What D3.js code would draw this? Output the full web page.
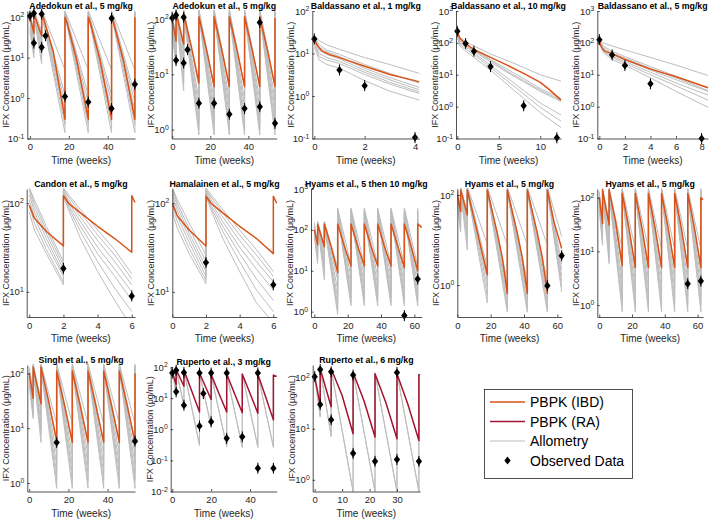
<!DOCTYPE html>
<html><head><meta charset="utf-8">
<script src="https://cdn.jsdelivr.net/npm/d3@7"></script>
<style>
body{margin:0;background:#fff}
svg{display:block}
text{font-family:"Liberation Sans",Arial,Helvetica,sans-serif}
</style>
</head><body>
<svg id="c" width="709" height="520"></svg>
<script>
// ---------------- DATA ----------------
const titles = ["Adedokun et al., 5 mg/kg","Adedokun et al., 5 mg/kg","Baldassano et al., 1 mg/kg","Baldassano et al., 10 mg/kg","Baldassano et al., 5 mg/kg",
"Candon et al., 5 mg/kg","Hamalainen et al., 5 mg/kg","Hyams et al., 5 then 10 mg/kg","Hyams et al., 5 mg/kg","Hyams et al., 5 mg/kg",
"Singh et al., 5 mg/kg","Ruperto et al., 3 mg/kg","Ruperto et al., 6 mg/kg"];
const xLimits = [[-1.39,54.07],[-0.3,54.9],[-0.08,4.17],[-0.16,12.5],[-0.16,8.5],[-0.15,6.19],[0,6.2],[-2,64.4],[0,62.6],[-1.2,63.3],[-1,54],[-0.8,53.7],[-0.73,38.4]];
const yLimits = [[0.1,143],[0.69,140],[0.1,100],[0.1,1000],[0.1,1000],[5.2,145],[5.2,145],[0.74,1000],[0.195,136],[0.6,145],[0.7,142],[0.01,100],[0.59,178]];
const xTickValues = [[0,20,40],[0,20,40],[0,2,4],[0,5,10],[0,2,4,6,8],[0,2,4,6],[0,2,4,6],[0,20,40,60],[0,20,40,60],[0,20,40,60],[0,20,40],[0,20,40],[0,10,20,30]];
const yTickValues = [[0.1,1,10,100],[1,10,100],[0.1,1,10,100],[0.1,1,10,100,1000],[0.1,1,10,100,1000],[10,100],[10,100],[1,10,100,1000],[1,100],[1,10,100],[1,10,100],[0.01,0.1,1,10,100],[1,10,100]];
const legendLabels = ["PBPK (IBD)","PBPK (RA)","Allometry","Observed Data"];

// 1 Adedokun (q12w)
const ade1Time = [0,0.5,2,2,2.5,6,6,7,12,18,18,19,24,30,30,31,36,42,42,43,48,54,54];
const ade1Ibd  = [100,80,40,130,105,35,130,95,14,0.3,100,75,9,0.3,100,75,9,0.3,100,75,9,0.3,100];
const ade1Doses = [0,2,6,18,30,42,54];
const ade1Allo = [
 [[130,45],[150,45],[155,5],[145,5],[145,5],[145,5],[145]],
 [[110,35],[140,30],[145,1.2],[140,1.2],[140,1.2],[140,1.2],[140]],
 [[90,28],[135,24],[140,0.8],[135,0.8],[135,0.8],[135,0.8],[135]],
 [[75,22],[130,18],[135,0.5],[130,0.5],[130,0.5],[130,0.5],[130]],
 [[62,17],[125,13],[130,0.35],[125,0.35],[125,0.35],[125,0.35],[125]],
 [[52,13],[120,10],[125,0.22],[120,0.22],[120,0.22],[120,0.22],[120]],
 [[45,10],[115,7],[120,0.14],[115,0.14],[115,0.14],[115,0.14],[115]]];
const ade1ObsT = [0,2,2,6,6,8,18,30,42,42,54];
const ade1ObsC = [108,125,23,120,18,35,1.1,0.8,95,0.55,2.2];

// 2 Adedokun (q8w)
const ade2Time = [0,2,2,6,6,10,14,14,18,22,22,26,30,30,34,38,38,42,46,46,50,54,54];
const ade2Ibd  = [100,40,130,35,125,32,7,110,28,6,110,28,6,110,28,6,110,28,6,110,28,6,105];
const ade2Doses = [0,2,6,14,22,30,38,46,54];
const ade2Allo = [
 [[130,40],[150,35],[150,6],[150,6],[150,6],[150,6],[150,6],[150,6],[150]],
 [[110,32],[145,25],[145,3.5],[145,3.5],[145,3.5],[145,3.5],[145,3.5],[145,3.5],[145]],
 [[95,27],[140,18],[140,2.5],[140,2.5],[140,2.5],[140,2.5],[140,2.5],[140,2.5],[140]],
 [[80,23],[135,13],[135,1.8],[135,1.8],[135,1.8],[135,1.8],[135,1.8],[135,1.8],[135]],
 [[70,20],[130,10],[130,1.3],[130,1.3],[130,1.3],[130,1.3],[130,1.3],[130,1.3],[130]],
 [[60,17],[125,7],[125,1.0],[125,1.0],[125,1.0],[125,1.0],[125,1.0],[125,1.0],[125]],
 [[50,14],[120,5],[120,0.8],[120,0.8],[120,0.8],[120,0.8],[120,0.8],[120,0.8],[120]]];
const ade2ObsT = [0,2,2,6,6,8,14,22,30,38,46,46,54];
const ade2ObsC = [105,118,18,108,16,28,3.0,3.0,1.9,2.4,87,2.6,1.3];

// 3 Baldassano 1 mg/kg
const bal1Time = [0,0.1,0.3,0.6,1,2,3,4,4.17];
const bal1Ibd  = [22,16,11.5,9.5,8,5,3.2,2.3,2.15];
const bal1AlloTime = [0,0.2,0.5,1,2,3,4.17];
const bal1Allo = [
 [26,20,16,12.5,8,5.5,3.4],
 [24,16,12,9.5,5.5,3.4,2.0],
 [22,14,11,8.5,4.5,2.7,1.6],
 [20,12,9.5,7.5,4,2.4,1.4],
 [18,10,8,6.5,3.6,2.1,1.25],
 [16,8.5,7,5.8,3.2,1.9,1.15],
 [14,7,5.5,4.5,2.3,1.3,0.8]];
const bal1ObsT = [0,1,2,4];
const bal1ObsC = [22,4.1,1.75,0.105];

// 4 Baldassano 10 mg/kg
const bal10Time = [0,0.3,1,2,4,6,8,10,11,12.5];
const bal10Ibd  = [230,140,95,62,35,20,11,5.8,3.6,1.6];
const bal10AlloTime = [0,0.3,1,2,4,6,8,10,12.5];
const bal10Allo = [
 [220,150,110,80,45,28,17,10,6.3],
 [200,130,90,65,30,15,7.5,3.7,1.8],
 [190,120,85,58,28,13,6.5,3.3,1.6],
 [180,110,80,55,25,12,6,3,1.45],
 [170,100,75,48,20,8,3.2,1.3,0.55],
 [160,90,65,42,17,6.5,2.5,0.95,0.35],
 [150,80,55,35,14,5,1.8,0.65,0.22]];
const bal10ObsT = [0,1,2,4,8,12];
const bal10ObsC = [230,95,55,18,1.06,0.105];

// 5 Baldassano 5 mg/kg
const bal5Time = [0,0.15,0.4,1,2,4,6,8,8.5];
const bal5Ibd  = [110,75,55,46,30,15,8.7,4.6,3.9];
const bal5AlloTime = [0,0.3,1,2,4,6,8.5];
const bal5Allo = [
 [130,100,80,60,35,20,9.5],
 [125,80,55,37,18,9,3.8],
 [120,70,48,33,16,8,3.2],
 [115,65,42,30,14,7,3.0],
 [110,60,38,26,12,5.5,2.3],
 [105,55,35,23,10,4.5,1.6],
 [100,50,30,20,8,3,0.95]];
const bal5ObsT = [0,1,2,4,8];
const bal5ObsC = [126,42,19.6,5.2,0.1];

// 6 Candon
const canTime = [0,0.3,1,2,2,2.3,3,4,5,6,6,6.19];
const canIbd  = [95,68,48,33,122,100,78,55,40,28,122,102];
const canAlloTime = [0,0.3,1,2,2,2.3,3,4,5,6];
const canAllo = [
 [150,110,55,22,150,125,85,50,30,16],
 [150,100,50,20,145,118,78,44,26,14],
 [140,90,45,18,140,110,70,38,22,12],
 [125,80,40,16,135,103,62,32,18,10],
 [110,70,35,15,130,96,55,27,15,8],
 [95,60,30,13,125,90,48,22,11,6],
 [80,50,27,12,120,84,40,17,8,4]];
const canObsT = [2,6];
const canObsC = [18.4,9];

// 7 Hamalainen
const hamTime = [0,0.3,1,2,2,2.3,3,4,5,6,6,6.2];
const hamIbd  = [100,72,50,33,120,100,78,55,40,27,120,100];
const hamAlloTime = [0,0.3,1,2,2,2.3,3,4,5,6];
const hamAllo = [
 [150,110,60,26,150,125,85,50,30,17],
 [150,100,52,22,145,118,78,44,26,15],
 [140,92,46,19,140,110,70,38,22,13],
 [125,82,41,17,135,103,62,32,18,10.5],
 [110,72,36,15,130,96,55,27,14,8],
 [95,62,31,13.5,125,90,48,22,10.5,6],
 [80,52,27,12.4,120,84,40,17,7.5,4.5]];
const hamObsT = [2,6];
const hamObsC = [21.5,12];

// 8 Hyams 5 then 10 mg/kg
const hy10Time = [0,2,2,6,6,10,14,14,18,22,22,26,30,30,34,38,38,42,46,46,50,54,54,58,62,62,64.4];
const hy10Ibd  = [100,43,135,39,140,40,9,140,40,13,140,40,13,140,40,13,140,40,13,140,40,12,140,40,10,140,115];
const hy10Doses = [0,2,6,14,22,30,38,46,54,62];
const hy10Allo = [
 [[150,45],[160,40],[160,12],[340,14],[340,14],[340,14],[340,14],[340,14],[340,13],[340]],
 [[130,38],[155,30],[155,6],[320,7],[320,7],[320,7],[320,7],[320,7],[320,7],[320]],
 [[115,32],[150,22],[150,3.5],[300,4.5],[300,4.5],[300,4.5],[300,4.5],[300,4.5],[300,4.5],[300]],
 [[100,27],[145,16],[145,2.2],[285,3],[285,3],[285,3],[285,3],[285,3],[285,3],[285]],
 [[90,22],[140,12],[140,1.5],[270,2.2],[270,2.2],[270,2.2],[270,2.2],[270,2.2],[270,2.2],[270]],
 [[80,18],[135,9],[135,1.1],[255,1.7],[255,1.7],[255,1.7],[255,1.7],[255,1.7],[255,1.7],[255]],
 [[70,15],[130,6],[130,0.85],[240,1.4],[240,1.4],[240,1.4],[240,1.4],[240,1.4],[240,1.4],[240]]];
const hy10ObsT = [54,62];
const hy10ObsC = [0.8,6.3];

// 9 Hyams 5 mg/kg (q12w)
const hy5aTime = [0,2,2,6,6,12,15,18,18,24,27,30,30,36,39,42,42,48,51,54,54,58,62.6];
const hy5aIbd  = [100,43,130,36,130,15,5,1.7,130,14,4,0.65,130,14,4,0.65,130,14,4,0.65,130,25,6.5];
const hy5aDoses = [0,2,6,18,30,42,54];
const hy5aAllo = [
 [[140,45],[150,42],[155,8],[150,7.7],[150,7.7],[150,7.7],[150,12]],
 [[125,38],[145,32],[150,2.5],[145,1.2],[145,1.2],[145,1.2],[145,3]],
 [[110,32],[140,24],[145,1.8],[140,0.8],[140,0.8],[140,0.8],[140,2.2]],
 [[95,27],[135,18],[140,1.3],[135,0.55],[135,0.55],[135,0.55],[135,1.6]],
 [[85,22],[130,13],[135,0.9],[130,0.4],[130,0.4],[130,0.4],[130,1.2]],
 [[75,18],[125,9],[130,0.6],[125,0.3],[125,0.3],[125,0.3],[125,0.9]],
 [[65,15],[120,6],[125,0.4],[120,0.25],[120,0.25],[120,0.25],[120,0.7]]];
const hy5aObsT = [54,62.6];
const hy5aObsC = [0.97,4.5];

// 10 Hyams 5 mg/kg (q8w)
const hy5bTime = [0,2,2,6,6,10,14,14,18,22,22,26,30,30,34,38,38,42,46,46,50,54,54,58,62,62,63.3];
const hy5bIbd  = [100,33,140,31,140,35,5.5,120,28,5,120,28,5,120,28,5,120,28,5,120,28,5,120,28,5,100,92];
const hy5bDoses = [0,2,6,14,22,30,38,46,54,62];
const hy5bAllo = [
 [[130,40],[150,35],[150,11],[150,11],[150,11],[150,11],[150,11],[150,11],[150,11],[150]],
 [[115,33],[145,26],[145,5],[145,5],[145,5],[145,5],[145,5],[145,5],[145,5],[145]],
 [[100,27],[140,18],[140,3],[140,3],[140,3],[140,3],[140,3],[140,3],[140,3],[140]],
 [[90,22],[135,13],[135,2],[135,2],[135,2],[135,2],[135,2],[135,2],[135,2],[135]],
 [[80,18],[130,10],[130,1.4],[130,1.4],[130,1.4],[130,1.4],[130,1.4],[130,1.4],[130,1.4],[130]],
 [[70,15],[125,7.5],[125,1.0],[125,1.0],[125,1.0],[125,1.0],[125,1.0],[125,1.0],[125,1.0],[125]],
 [[60,13],[120,5.9],[120,0.75],[120,0.75],[120,0.75],[120,0.75],[120,0.75],[120,0.75],[120,0.75],[120]]];
const hy5bObsT = [54,62];
const hy5bObsC = [2.5,2.8];

// 11 Singh
const sinTime = [0,2,2,6,6,10,14,14,18,22,22,26,30,30,34,38,38,42,46,46,50,54,54];
const sinIbd  = [100,35,130,28,130,30,5.8,110,26,5.5,110,26,5.5,110,26,5.5,110,26,5.5,110,26,5.5,100];
const sinDoses = [0,2,6,14,22,30,38,46,54];
const sinAllo = [
 [[130,42],[150,32],[150,12],[150,12],[150,12],[150,12],[150,12],[150,12],[150]],
 [[115,35],[145,25],[145,5.5],[145,5.5],[145,5.5],[145,5.5],[145,5.5],[145,5.5],[145]],
 [[100,29],[140,18],[140,3.3],[140,3.3],[140,3.3],[140,3.3],[140,3.3],[140,3.3],[140]],
 [[90,24],[135,13],[135,2.2],[135,2.2],[135,2.2],[135,2.2],[135,2.2],[135,2.2],[135]],
 [[80,20],[130,9.5],[130,1.5],[130,1.5],[130,1.5],[130,1.5],[130,1.5],[130,1.5],[130]],
 [[70,17],[125,7.5],[125,1.1],[125,1.1],[125,1.1],[125,1.1],[125,1.1],[125,1.1],[125]],
 [[60,15],[120,5.5],[120,0.8],[120,0.8],[120,0.8],[120,0.8],[120,0.8],[120,0.8],[120]]];
const sinObsT = [14,54];
const sinObsC = [5.5,5.8];

// 12 Ruperto 3 mg/kg
const rup3Time = [0,2,2,6,6,10,14,14,17,20,20,24,28,28,32,36,36,40,44,44,48,52,52,53.7];
const rup3Ra   = [72,27,82,24,80,17,3.6,64,24,9,57,14,3.6,60,14,3.4,60,14,3.3,58,11,2,55,50];
const rup3Doses = [0,2,6,14,20,28,36,44,52];
const rup3Allo = [
 [[72,16],[82,6.3],[80,0.33],[64,1.35],[57,0.29],[60,0.28],[60,0.28],[58,0.28],[55]],
 [[70,14],[80,5.5],[78,0.3],[62,1.2],[55,0.27],[58,0.26],[58,0.26],[56,0.26],[53]]];
const rup3ObsT = [0,2,2,6,6,14,14,16,20,20,28,28,36,44,44,52];
const rup3ObsC = [64,78,16,67,5.9,64,1.27,14,64,1.74,64,0.51,0.57,64,0.056,0.056];

// 13 Ruperto 6 mg/kg
const rup6Time = [0,2,2,6,6,10,14,14,18,22,22,26,30,30,34,38,38,38.4];
const rup6Ra   = [105,29,150,27,150,45,8,127,35,6.9,120,32,6.4,120,30,5.9,115,112];
const rup6Doses = [0,2,6,14,22,30,38];
const rup6Allo = [
 [[110,18],[150,7.4],[150,0.6],[130,0.6],[125,0.6],[125,0.6],[120]],
 [[105,17],[145,7],[145,0.58],[125,0.58],[120,0.58],[120,0.58],[115]]];
const rup6ObsT = [0,2,2,6,6,14,14,22,30,30,38];
const rup6ObsC = [105,145,30,131,15,113,3.3,2.3,127,2.5,2.3];

// ---------------- assemble ----------------
const zip = (a,b)=>a.map((v,i)=>[v,b[i]]);
function sawPoints(doses, pairs, xEnd){
  const pts=[];
  pairs.forEach((pr,j)=>{
    pts.push([doses[j],pr[0]]);
    if(pr.length>1) pts.push([j+1<doses.length?doses[j+1]:xEnd, pr[1]]);
  });
  return pts;
}
const curves = [
 {main:zip(ade1Time,ade1Ibd),type:"ibd",allo:ade1Allo.map(p=>sawPoints(ade1Doses,p,xLimits[0][1])),obs:zip(ade1ObsT,ade1ObsC)},
 {main:zip(ade2Time,ade2Ibd),type:"ibd",allo:ade2Allo.map(p=>sawPoints(ade2Doses,p,xLimits[1][1])),obs:zip(ade2ObsT,ade2ObsC)},
 {main:zip(bal1Time,bal1Ibd),type:"ibd",allo:bal1Allo.map(v=>zip(bal1AlloTime,v)),obs:zip(bal1ObsT,bal1ObsC)},
 {main:zip(bal10Time,bal10Ibd),type:"ibd",allo:bal10Allo.map(v=>zip(bal10AlloTime,v)),obs:zip(bal10ObsT,bal10ObsC)},
 {main:zip(bal5Time,bal5Ibd),type:"ibd",allo:bal5Allo.map(v=>zip(bal5AlloTime,v)),obs:zip(bal5ObsT,bal5ObsC)},
 {main:zip(canTime,canIbd),type:"ibd",allo:canAllo.map(v=>zip(canAlloTime,v)),obs:zip(canObsT,canObsC)},
 {main:zip(hamTime,hamIbd),type:"ibd",allo:hamAllo.map(v=>zip(hamAlloTime,v)),obs:zip(hamObsT,hamObsC)},
 {main:zip(hy10Time,hy10Ibd),type:"ibd",allo:hy10Allo.map(p=>sawPoints(hy10Doses,p,xLimits[7][1])),obs:zip(hy10ObsT,hy10ObsC)},
 {main:zip(hy5aTime,hy5aIbd),type:"ibd",allo:hy5aAllo.map(p=>sawPoints(hy5aDoses,p,xLimits[8][1])),obs:zip(hy5aObsT,hy5aObsC)},
 {main:zip(hy5bTime,hy5bIbd),type:"ibd",allo:hy5bAllo.map(p=>sawPoints(hy5bDoses,p,xLimits[9][1])),obs:zip(hy5bObsT,hy5bObsC)},
 {main:zip(sinTime,sinIbd),type:"ibd",allo:sinAllo.map(p=>sawPoints(sinDoses,p,xLimits[10][1])),obs:zip(sinObsT,sinObsC)},
 {main:zip(rup3Time,rup3Ra),type:"ra",allo:rup3Allo.map(p=>sawPoints(rup3Doses,p,xLimits[11][1])),obs:zip(rup3ObsT,rup3ObsC)},
 {main:zip(rup6Time,rup6Ra),type:"ra",allo:rup6Allo.map(p=>sawPoints(rup6Doses,p,xLimits[12][1])),obs:zip(rup6ObsT,rup6ObsC)}
];

// ---------------- layout & style (not data) ----------------
const layout = [
 [27.3,11,135,138.5],[171.7,11,276.7,138.5],[312.3,11,419.3,138.5],[456,11,561,138.5],[597.3,11,708,138.5],
 [26.7,189,135,317],[172.3,189,276.7,317],[311,189,421.7,317],[457.3,189,561.7,317],[597.3,189,703,317],
 [27.3,365,135,491.5],[170.7,367,276.7,491.5],[312.7,365,420,491.5]
];
const COL = {ibd:"#D95319", ra:"#A2142F", allo:"#BDBDBD", axis:"#262626"};

const svg = d3.select("#c");
const defs = svg.append("defs");
const diamond = {draw(ctx,size){const h=Math.sqrt(size)/2; ctx.moveTo(0,-h*1.15); ctx.lineTo(h*0.9,0); ctx.lineTo(0,h*1.15); ctx.lineTo(-h*0.9,0); ctx.closePath();}};

curves.forEach((c,i)=>{
  const [L,T,R,B] = layout[i];
  const x = d3.scaleLinear().domain(xLimits[i]).range([L,R]);
  const y = d3.scaleLog().domain(yLimits[i]).range([B,T]);
  const g = svg.append("g");
  defs.append("clipPath").attr("id","clip"+i).append("rect")
    .attr("x",L).attr("y",T-1).attr("width",R-L+1).attr("height",B-T+2);
  const plot = g.append("g").attr("clip-path",`url(#clip${i})`);
  const line = d3.line().x(d=>x(d[0])).y(d=>y(d[1]));
  plot.selectAll(".allo").data(c.allo).join("path")
    .attr("d",line).attr("fill","none").attr("stroke",COL.allo).attr("stroke-width",1);
  plot.append("path").attr("d",line(c.main)).attr("fill","none")
    .attr("stroke",COL[c.type]).attr("stroke-width",1.5).attr("stroke-linejoin","round");
  // observed
  const og = g.append("g");
  og.selectAll("line").data(c.obs).join("line")
    .attr("x1",d=>x(d[0])).attr("x2",d=>x(d[0]))
    .attr("y1",d=>y(d[1])-5.5).attr("y2",d=>y(d[1])+5.5)
    .attr("stroke","#000").attr("stroke-width",1);
  og.selectAll("path").data(c.obs).join("path")
    .attr("transform",d=>`translate(${x(d[0])},${y(d[1])})`)
    .attr("d",d3.symbol().type(diamond).size(49)).attr("fill","#000");
  // axes
  const ax = g.append("g").attr("transform",`translate(0,${B})`)
    .call(d3.axisBottom(x).tickValues(xTickValues[i]).tickSizeInner(-2.5).tickSizeOuter(0).tickPadding(5).tickFormat(d3.format("d")));
  const ay = g.append("g").attr("transform",`translate(${L},0)`)
    .call(d3.axisLeft(y).tickValues(yTickValues[i]).tickSizeInner(-2.5).tickSizeOuter(0).tickPadding(3).tickFormat(()=>""));
  [ax,ay].forEach(a=>{
    a.attr("font-family",null).attr("font-size",null);
    a.select(".domain").attr("stroke",COL.axis).attr("stroke-width",0.8);
    a.selectAll(".tick line").attr("stroke",COL.axis).attr("stroke-width",0.8);
    a.selectAll(".tick text").attr("fill",COL.axis).attr("font-size",9.5);
  });
  ay.selectAll(".tick text").each(function(d){
    const t=d3.select(this);
    t.text("10");
    t.append("tspan").attr("dy","-0.5em").attr("font-size","0.72em").text(Math.round(Math.log10(d)));
  });
  // labels
  g.append("text").attr("x",(L+R)/2).attr("y",B+25).attr("text-anchor","middle")
    .attr("font-size",10).attr("fill",COL.axis).text("Time (weeks)");
  g.append("text").attr("transform",`translate(${L-18},${(T+B)/2}) rotate(-90)`).attr("text-anchor","middle")
    .attr("font-size",9).attr("fill",COL.axis).text("IFX Concentration (\u03BCg/mL)");
  g.append("text").attr("x",(L+R)/2).attr("y",T-2.5).attr("text-anchor","middle")
    .attr("font-size",8.8).attr("font-weight","bold").attr("fill","#000").text(titles[i]);
});

// legend
const lg = svg.append("g");
const lx=484, ly=389, lw=148, lh=89;
lg.append("rect").attr("x",lx+0.5).attr("y",ly+0.5).attr("width",lw).attr("height",lh)
  .attr("fill","#fff").attr("stroke",COL.axis).attr("stroke-width",0.8);
const legStyles = [{c:COL.ibd,w:1.5},{c:COL.ra,w:1.5},{c:COL.allo,w:1.2},{c:null}];
legendLabels.forEach((lab,k)=>{
  const yy = ly+13+k*19.5;
  if(legStyles[k].c){
    lg.append("line").attr("x1",lx+6).attr("x2",lx+41).attr("y1",yy).attr("y2",yy)
      .attr("stroke",legStyles[k].c).attr("stroke-width",legStyles[k].w);
  } else {
    lg.append("path").attr("transform",`translate(${lx+23.5},${yy})`)
      .attr("d",d3.symbol().type(diamond).size(49)).attr("fill","#000");
  }
  lg.append("text").attr("x",lx+46).attr("y",yy+5).attr("font-size",14).attr("fill","#000").text(lab);
});
</script>
</body></html>
